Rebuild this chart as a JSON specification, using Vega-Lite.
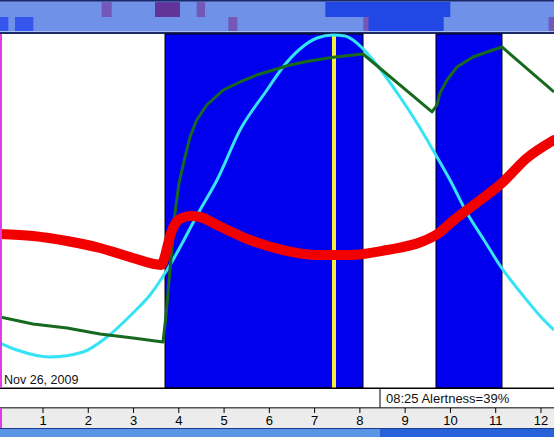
{
  "$schema": "https://vega.github.io/schema/vega-lite/v6.json",
  "width": 554,
  "height": 437,
  "autosize": {"type": "none"},
  "padding": 0,
  "background": "white",
  "config": {"view": {"stroke": null}},
  "datasets": {
    "curves": [
      {"series": "cyan", "h": 0.050, "v": 12.71},
      {"series": "cyan", "h": 0.426, "v": 10.73},
      {"series": "cyan", "h": 1.155, "v": 8.76},
      {"series": "cyan", "h": 1.884, "v": 10.17},
      {"series": "cyan", "h": 2.414, "v": 14.41},
      {"series": "cyan", "h": 2.988, "v": 21.19},
      {"series": "cyan", "h": 3.364, "v": 26.27},
      {"series": "cyan", "h": 3.739, "v": 33.33},
      {"series": "cyan", "h": 4.468, "v": 50.28},
      {"series": "cyan", "h": 4.844, "v": 58.76},
      {"series": "cyan", "h": 5.352, "v": 72.88},
      {"series": "cyan", "h": 5.948, "v": 84.18},
      {"series": "cyan", "h": 6.302, "v": 90.68},
      {"series": "cyan", "h": 6.677, "v": 95.76},
      {"series": "cyan", "h": 7.053, "v": 98.87},
      {"series": "cyan", "h": 7.406, "v": 99.72},
      {"series": "cyan", "h": 7.671, "v": 99.44},
      {"series": "cyan", "h": 7.848, "v": 98.31},
      {"series": "cyan", "h": 8.157, "v": 94.63},
      {"series": "cyan", "h": 8.511, "v": 88.98},
      {"series": "cyan", "h": 8.886, "v": 82.20},
      {"series": "cyan", "h": 9.262, "v": 74.86},
      {"series": "cyan", "h": 9.615, "v": 67.23},
      {"series": "cyan", "h": 9.991, "v": 58.76},
      {"series": "cyan", "h": 10.366, "v": 49.44},
      {"series": "cyan", "h": 10.742, "v": 41.81},
      {"series": "cyan", "h": 11.117, "v": 34.18},
      {"series": "cyan", "h": 11.559, "v": 26.84},
      {"series": "cyan", "h": 12.001, "v": 20.06},
      {"series": "cyan", "h": 12.288, "v": 16.38},
      {"series": "green", "h": 0.050, "v": 20.06},
      {"series": "green", "h": 0.779, "v": 18.08},
      {"series": "green", "h": 1.530, "v": 16.95},
      {"series": "green", "h": 2.259, "v": 15.25},
      {"series": "green", "h": 2.988, "v": 14.12},
      {"series": "green", "h": 3.651, "v": 12.99},
      {"series": "green", "h": 3.717, "v": 20.34},
      {"series": "green", "h": 3.783, "v": 30.23},
      {"series": "green", "h": 3.850, "v": 39.83},
      {"series": "green", "h": 3.916, "v": 49.44},
      {"series": "green", "h": 4.004, "v": 57.91},
      {"series": "green", "h": 4.137, "v": 65.25},
      {"series": "green", "h": 4.247, "v": 70.90},
      {"series": "green", "h": 4.395, "v": 75.71},
      {"series": "green", "h": 4.616, "v": 79.94},
      {"series": "green", "h": 4.983, "v": 84.18},
      {"series": "green", "h": 5.352, "v": 86.44},
      {"series": "green", "h": 5.721, "v": 88.42},
      {"series": "green", "h": 6.087, "v": 89.83},
      {"series": "green", "h": 6.456, "v": 91.24},
      {"series": "green", "h": 6.825, "v": 92.23},
      {"series": "green", "h": 7.413, "v": 93.42},
      {"series": "green", "h": 8.069, "v": 94.35},
      {"series": "green", "h": 9.593, "v": 77.97},
      {"series": "green", "h": 9.703, "v": 79.94},
      {"series": "green", "h": 9.770, "v": 83.33},
      {"series": "green", "h": 9.924, "v": 87.01},
      {"series": "green", "h": 10.145, "v": 90.68},
      {"series": "green", "h": 10.499, "v": 93.50},
      {"series": "green", "h": 10.808, "v": 94.92},
      {"series": "green", "h": 11.139, "v": 96.33},
      {"series": "green", "h": 12.288, "v": 83.62},
      {"series": "red", "h": 0.050, "v": 43.50},
      {"series": "red", "h": 0.779, "v": 42.94},
      {"series": "red", "h": 1.530, "v": 41.53},
      {"series": "red", "h": 2.259, "v": 39.55},
      {"series": "red", "h": 2.988, "v": 36.72},
      {"series": "red", "h": 3.607, "v": 34.75},
      {"series": "red", "h": 3.695, "v": 37.29},
      {"series": "red", "h": 3.761, "v": 40.68},
      {"series": "red", "h": 3.828, "v": 43.79},
      {"series": "red", "h": 3.916, "v": 46.33},
      {"series": "red", "h": 4.070, "v": 48.02},
      {"series": "red", "h": 4.247, "v": 48.59},
      {"series": "red", "h": 4.468, "v": 48.31},
      {"series": "red", "h": 4.844, "v": 46.05},
      {"series": "red", "h": 5.573, "v": 41.81},
      {"series": "red", "h": 6.302, "v": 38.98},
      {"series": "red", "h": 7.053, "v": 37.57},
      {"series": "red", "h": 7.782, "v": 37.57},
      {"series": "red", "h": 8.599, "v": 38.98},
      {"series": "red", "h": 9.350, "v": 41.24},
      {"series": "red", "h": 9.681, "v": 43.22},
      {"series": "red", "h": 10.079, "v": 47.46},
      {"series": "red", "h": 10.455, "v": 51.13},
      {"series": "red", "h": 10.808, "v": 54.52},
      {"series": "red", "h": 11.139, "v": 57.91},
      {"series": "red", "h": 11.691, "v": 64.97},
      {"series": "red", "h": 12.288, "v": 70.06}
    ],
    "bands": [
      {"start": 3.695, "end": 8.069},
      {"start": 9.681, "end": 11.139}
    ],
    "cursor": [{"h": 7.428}],
    "hours": [
      {"hour": 1}, {"hour": 2}, {"hour": 3}, {"hour": 4}, {"hour": 5}, {"hour": 6},
      {"hour": 7}, {"hour": 8}, {"hour": 9}, {"hour": 10}, {"hour": 11}, {"hour": 12}
    ],
    "strip": [
      {"row": "top", "start": 2.296, "end": 2.518, "level": "purple"},
      {"row": "top", "start": 3.474, "end": 4.026, "level": "deep purple"},
      {"row": "top", "start": 4.395, "end": 4.579, "level": "purple"},
      {"row": "top", "start": 7.236, "end": 9.997, "level": "blue"},
      {"row": "bottom", "start": 0.05, "end": 0.234, "level": "bright blue"},
      {"row": "bottom", "start": 0.381, "end": 0.786, "level": "bright blue"},
      {"row": "bottom", "start": 5.093, "end": 5.292, "level": "purple"},
      {"row": "bottom", "start": 8.084, "end": 9.851, "level": "blue"},
      {"row": "bottom", "start": 8.084, "end": 8.19, "level": "purple"},
      {"row": "bottom", "start": 12.17, "end": 12.29, "level": "purple"}
    ]
  },
  "layer": [
    {
      "data": {"values": [{}]},
      "mark": {"type": "rect", "color": "#6f91e7"},
      "encoding": {
        "x": {"datum": 0, "type": "quantitative", "scale": {"domain": [0.05, 12.288], "nice": false, "zero": false}, "axis": null},
        "x2": {"datum": 12.4},
        "y": {"datum": 100, "type": "quantitative", "scale": {"domain": [-13.84, 109.6], "nice": false, "zero": false}, "axis": null},
        "y2": {"datum": 110}
      }
    },
    {
      "data": {"name": "strip"},
      "transform": [{"filter": "datum.row === 'top'"}],
      "mark": {"type": "rect"},
      "encoding": {
        "x": {"field": "start", "type": "quantitative", "scale": {"domain": [0.05, 12.288], "nice": false, "zero": false}, "axis": null},
        "x2": {"field": "end"},
        "y": {"datum": 104.8, "type": "quantitative", "scale": {"domain": [-13.84, 109.6], "nice": false, "zero": false}, "axis": null},
        "y2": {"datum": 109.0},
        "color": {"field": "level", "type": "nominal", "scale": {"domain": ["purple", "deep purple", "blue", "bright blue"], "range": ["#7358b8", "#603498", "#2148e4", "#3456ec"]}, "legend": null}
      }
    },
    {
      "data": {"name": "strip"},
      "transform": [{"filter": "datum.row === 'bottom'"}],
      "mark": {"type": "rect"},
      "encoding": {
        "x": {"field": "start", "type": "quantitative", "scale": {"domain": [0.05, 12.288], "nice": false, "zero": false}, "axis": null},
        "x2": {"field": "end"},
        "y": {"datum": 100.85, "type": "quantitative", "scale": {"domain": [-13.84, 109.6], "nice": false, "zero": false}, "axis": null},
        "y2": {"datum": 104.8},
        "color": {"field": "level", "type": "nominal", "scale": {"domain": ["purple", "deep purple", "blue", "bright blue"], "range": ["#7358b8", "#603498", "#2148e4", "#3456ec"]}, "legend": null}
      }
    },
    {
      "data": {"values": [{}]},
      "mark": {"type": "rect", "color": "#1b2a66"},
      "encoding": {
        "x": {"datum": 0, "type": "quantitative", "scale": {"domain": [0.05, 12.288], "nice": false, "zero": false}, "axis": null},
        "x2": {"datum": 12.4},
        "y": {"datum": 109.18, "type": "quantitative", "scale": {"domain": [-13.84, 109.6], "nice": false, "zero": false}, "axis": null},
        "y2": {"datum": 110}
      }
    },
    {
      "data": {"values": [{}]},
      "mark": {"type": "rect", "color": "#a9c0f2"},
      "encoding": {
        "x": {"datum": 0, "type": "quantitative", "scale": {"domain": [0.05, 12.288], "nice": false, "zero": false}, "axis": null},
        "x2": {"datum": 12.4},
        "y": {"datum": 100.56, "type": "quantitative", "scale": {"domain": [-13.84, 109.6], "nice": false, "zero": false}, "axis": null},
        "y2": {"datum": 100.85}
      }
    },
    {
      "data": {"values": [{}]},
      "mark": {"type": "rect", "color": "#1b2a66"},
      "encoding": {
        "x": {"datum": 0, "type": "quantitative", "scale": {"domain": [0.05, 12.288], "nice": false, "zero": false}, "axis": null},
        "x2": {"datum": 12.4},
        "y": {"datum": 100.0, "type": "quantitative", "scale": {"domain": [-13.84, 109.6], "nice": false, "zero": false}, "axis": null},
        "y2": {"datum": 100.56}
      }
    },
    {
      "data": {"values": [{}]},
      "mark": {"type": "rect", "color": "#ececec"},
      "encoding": {
        "x": {"datum": 0, "type": "quantitative", "scale": {"domain": [0.05, 12.288], "nice": false, "zero": false}, "axis": null},
        "x2": {"datum": 12.4},
        "y": {"datum": -11.30, "type": "quantitative", "scale": {"domain": [-13.84, 109.6], "nice": false, "zero": false}, "axis": null},
        "y2": {"datum": -5.65}
      }
    },
    {
      "data": {"name": "bands"},
      "mark": {"type": "rect", "fill": "#0000ee", "stroke": "black", "strokeWidth": 1},
      "encoding": {
        "x": {"field": "start", "type": "quantitative", "scale": {"domain": [0.05, 12.288], "nice": false, "zero": false}, "axis": null},
        "x2": {"field": "end"},
        "y": {"datum": 0, "type": "quantitative", "scale": {"domain": [-13.84, 109.6], "nice": false, "zero": false}, "axis": null},
        "y2": {"datum": 100}
      }
    },
    {
      "data": {"name": "cursor"},
      "mark": {"type": "rule", "color": "#f6ee3c", "strokeWidth": 4},
      "encoding": {
        "x": {"field": "h", "type": "quantitative", "scale": {"domain": [0.05, 12.288], "nice": false, "zero": false}, "axis": null},
        "y": {"datum": 0, "type": "quantitative", "scale": {"domain": [-13.84, 109.6], "nice": false, "zero": false}, "axis": null},
        "y2": {"datum": 100}
      }
    },
    {
      "data": {"name": "curves"},
      "transform": [{"filter": "datum.series === 'cyan'"}],
      "mark": {"type": "line", "color": "#35e4f4", "strokeWidth": 3, "interpolate": "monotone"},
      "encoding": {
        "x": {"field": "h", "type": "quantitative", "scale": {"domain": [0.05, 12.288], "nice": false, "zero": false}, "axis": null},
        "y": {"field": "v", "type": "quantitative", "scale": {"domain": [-13.84, 109.6], "nice": false, "zero": false}, "axis": null}
      }
    },
    {
      "data": {"name": "curves"},
      "transform": [{"filter": "datum.series === 'green'"}],
      "mark": {"type": "line", "color": "#17691f", "strokeWidth": 3, "interpolate": "linear", "strokeJoin": "round"},
      "encoding": {
        "x": {"field": "h", "type": "quantitative", "scale": {"domain": [0.05, 12.288], "nice": false, "zero": false}, "axis": null},
        "y": {"field": "v", "type": "quantitative", "scale": {"domain": [-13.84, 109.6], "nice": false, "zero": false}, "axis": null}
      }
    },
    {
      "data": {"name": "curves"},
      "transform": [{"filter": "datum.series === 'red'"}],
      "mark": {"type": "line", "color": "#f20000", "strokeWidth": 10, "interpolate": "monotone", "strokeCap": "round", "strokeJoin": "round"},
      "encoding": {
        "x": {"field": "h", "type": "quantitative", "scale": {"domain": [0.05, 12.288], "nice": false, "zero": false}, "axis": null},
        "y": {"field": "v", "type": "quantitative", "scale": {"domain": [-13.84, 109.6], "nice": false, "zero": false}, "axis": null}
      }
    },
    {
      "data": {"values": [{}]},
      "mark": {"type": "rect", "color": "black"},
      "encoding": {
        "x": {"datum": 0, "type": "quantitative", "scale": {"domain": [0.05, 12.288], "nice": false, "zero": false}, "axis": null},
        "x2": {"datum": 12.4},
        "y": {"datum": -0.28, "type": "quantitative", "scale": {"domain": [-13.84, 109.6], "nice": false, "zero": false}, "axis": null},
        "y2": {"datum": 0.14}
      }
    },
    {
      "data": {"values": [{}]},
      "mark": {"type": "rule", "color": "black", "strokeWidth": 1},
      "encoding": {
        "x": {"datum": 8.444, "type": "quantitative", "scale": {"domain": [0.05, 12.288], "nice": false, "zero": false}, "axis": null},
        "y": {"datum": 0, "type": "quantitative", "scale": {"domain": [-13.84, 109.6], "nice": false, "zero": false}, "axis": null},
        "y2": {"datum": -5.51}
      }
    },
    {
      "data": {"values": [{}]},
      "mark": {"type": "rule", "color": "black", "strokeWidth": 1},
      "encoding": {
        "x": {"datum": 0, "type": "quantitative", "scale": {"domain": [0.05, 12.288], "nice": false, "zero": false}, "axis": null},
        "x2": {"datum": 12.4},
        "y": {"datum": -5.6, "type": "quantitative", "scale": {"domain": [-13.84, 109.6], "nice": false, "zero": false}, "axis": null}
      }
    },
    {
      "data": {"name": "hours"},
      "mark": {"type": "rule", "color": "black", "strokeWidth": 1},
      "encoding": {
        "x": {"field": "hour", "type": "quantitative", "scale": {"domain": [0.05, 12.288], "nice": false, "zero": false}, "axis": null},
        "y": {"datum": -5.65, "type": "quantitative", "scale": {"domain": [-13.84, 109.6], "nice": false, "zero": false}, "axis": null},
        "y2": {"datum": -7.06}
      }
    },
    {
      "data": {"name": "hours"},
      "mark": {"type": "text", "align": "center", "baseline": "alphabetic", "font": "Liberation Sans", "fontSize": 13, "color": "black"},
      "encoding": {
        "x": {"field": "hour", "type": "quantitative", "scale": {"domain": [0.05, 12.288], "nice": false, "zero": false}, "axis": null},
        "y": {"datum": -10.45, "type": "quantitative", "scale": {"domain": [-13.84, 109.6], "nice": false, "zero": false}, "axis": null},
        "text": {"field": "hour", "type": "quantitative", "format": "d"}
      }
    },
    {
      "data": {"values": [{}]},
      "mark": {"type": "rect", "color": "#1c3d8f"},
      "encoding": {
        "x": {"datum": 0, "type": "quantitative", "scale": {"domain": [0.05, 12.288], "nice": false, "zero": false}, "axis": null},
        "x2": {"datum": 12.4},
        "y": {"datum": -11.58, "type": "quantitative", "scale": {"domain": [-13.84, 109.6], "nice": false, "zero": false}, "axis": null},
        "y2": {"datum": -11.30}
      }
    },
    {
      "data": {"values": [{}]},
      "mark": {"type": "rect", "color": "#5a95e4"},
      "encoding": {
        "x": {"datum": 0, "type": "quantitative", "scale": {"domain": [0.05, 12.288], "nice": false, "zero": false}, "axis": null},
        "x2": {"datum": 8.444},
        "y": {"datum": -14, "type": "quantitative", "scale": {"domain": [-13.84, 109.6], "nice": false, "zero": false}, "axis": null},
        "y2": {"datum": -11.58}
      }
    },
    {
      "data": {"values": [{}]},
      "mark": {"type": "rect", "color": "#2862d9"},
      "encoding": {
        "x": {"datum": 8.444, "type": "quantitative", "scale": {"domain": [0.05, 12.288], "nice": false, "zero": false}, "axis": null},
        "x2": {"datum": 12.4},
        "y": {"datum": -14, "type": "quantitative", "scale": {"domain": [-13.84, 109.6], "nice": false, "zero": false}, "axis": null},
        "y2": {"datum": -11.58}
      }
    },
    {
      "data": {"values": [{}]},
      "mark": {"type": "rect", "color": "#e03ce6"},
      "encoding": {
        "x": {"datum": 0, "type": "quantitative", "scale": {"domain": [0.05, 12.288], "nice": false, "zero": false}, "axis": null},
        "x2": {"datum": 0.094},
        "y": {"datum": 0, "type": "quantitative", "scale": {"domain": [-13.84, 109.6], "nice": false, "zero": false}, "axis": null},
        "y2": {"datum": 100}
      }
    },
    {
      "data": {"values": [{}]},
      "mark": {"type": "rect", "color": "#e03ce6"},
      "encoding": {
        "x": {"datum": 0, "type": "quantitative", "scale": {"domain": [0.05, 12.288], "nice": false, "zero": false}, "axis": null},
        "x2": {"datum": 0.094},
        "y": {"datum": -11.30, "type": "quantitative", "scale": {"domain": [-13.84, 109.6], "nice": false, "zero": false}, "axis": null},
        "y2": {"datum": -5.65}
      }
    },
    {
      "data": {"values": [{"label": "Nov 26, 2009"}]},
      "mark": {"type": "text", "align": "left", "baseline": "alphabetic", "font": "Liberation Sans", "fontSize": 12.5, "color": "#111111"},
      "encoding": {
        "x": {"datum": 0.1385, "type": "quantitative", "scale": {"domain": [0.05, 12.288], "nice": false, "zero": false}, "axis": null},
        "y": {"datum": 1.13, "type": "quantitative", "scale": {"domain": [-13.84, 109.6], "nice": false, "zero": false}, "axis": null},
        "text": {"field": "label"}
      }
    },
    {
      "data": {"values": [{"label": "08:25 Alertness=39%"}]},
      "mark": {"type": "text", "align": "left", "baseline": "alphabetic", "font": "Liberation Sans", "fontSize": 13, "color": "#111111"},
      "encoding": {
        "x": {"datum": 8.577, "type": "quantitative", "scale": {"domain": [0.05, 12.288], "nice": false, "zero": false}, "axis": null},
        "y": {"datum": -4.15, "type": "quantitative", "scale": {"domain": [-13.84, 109.6], "nice": false, "zero": false}, "axis": null},
        "text": {"field": "label"}
      }
    }
  ]
}
